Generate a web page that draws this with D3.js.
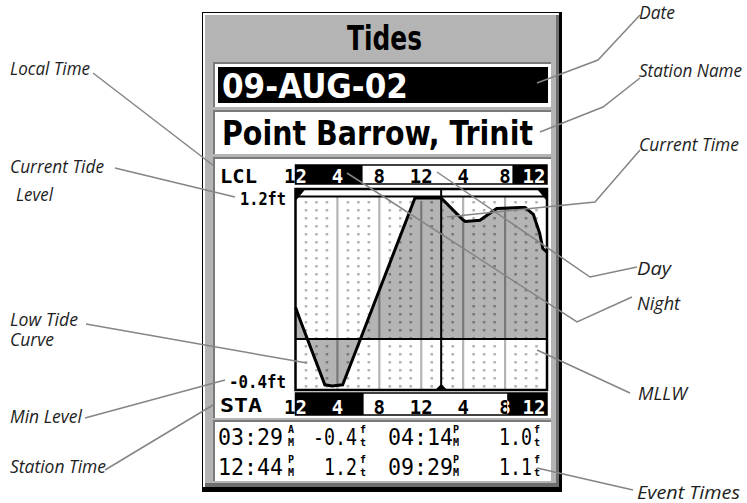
<!DOCTYPE html>
<html><head><meta charset="utf-8">
<script src="https://cdn.jsdelivr.net/npm/d3@7"></script>
<style>
html,body{margin:0;padding:0;background:#fff;}
svg{display:block;}
</style></head><body>
<svg id="c" width="747" height="503"></svg>
<script>
// ---------------- data ----------------
const screenTitle = "Tides";
const dateText = "09-AUG-02";
const stationName = "Point Barrow, Trinit";
const tideHours = [0, 0.45, 2.8, 3.5, 4.5, 6.2, 11.4, 12.7, 13.9, 15.9, 16.2, 17.6, 19.2, 21.5, 21.9, 22.7, 23.3, 23.6, 24];
const tideFeet  = [0.27, 0.16, -0.39, -0.4, -0.39, 0.0, 1.2, 1.2, 1.2, 1.02, 1.0, 1.01, 1.11, 1.12, 1.12, 1.06, 0.9, 0.77, 0.74];
const hourTicks = [0, 4, 8, 12, 16, 20, 24];
const hourTickLabels = ["12", "4", "8", "12", "4", "8", "12"];
const lclNight = [[0, 6.4], [20.7, 24]];
const staNight = [[0, 6.5], [20.2, 24]];
const currentHour = 13.9;
const levelMaxLabel = "1.2ft";
const levelMinLabel = "-0.4ft";
const levelDomain = [-0.4, 1.2];
const eventTimes = ["03:29", "12:44", "04:14", "09:29"];
const eventMeridiem = ["A", "P", "P", "P"];
const eventLevels = ["-0.4", "1.2", "1.0", "1.1"];
const calloutLabels = ["Local Time", "Current Tide|Level", "Low Tide|Curve", "Min Level", "Station Time",
  "Date", "Station Name", "Current Time", "Day", "Night", "MLLW", "Event Times"];

// ---------------- layout ----------------
const svg = d3.select("#c");
const GRAY = "#b4b4b4", DARK = "#7a7a7a", GRID_DARK = "#787878";
const plot = {x0: 295.5, x1: 547, y0: 189, y1: 390, top: 198, bottom: 386};
const x = d3.scaleLinear().domain([0, 24]).range([plot.x0, plot.x1]);
const y = d3.scaleLinear().domain(levelDomain).range([plot.bottom, plot.top]);
const tideAt = d3.scaleLinear().domain(tideHours).range(tideFeet);

function rect(g, x0, y0, x1, y1, fill) {
  return g.append("rect").attr("x", x0).attr("y", y0).attr("width", x1 - x0).attr("height", y1 - y0).attr("fill", fill);
}
function txt(g, str, xx, yy, o) {
  const t = g.append("text").attr("x", xx).attr("y", yy).text(str)
    .attr("font-family", o.family || "DejaVu Sans")
    .attr("font-size", o.size || 16)
    .attr("font-weight", o.weight || "normal")
    .attr("font-style", o.style || "normal")
    .attr("fill", o.fill || "#000")
    .attr("text-anchor", o.anchor || "start");
  if (o.len) t.attr("textLength", o.len).attr("lengthAdjust", "spacingAndGlyphs");
  return t;
}

// device frame with bevel
rect(svg, 202, 12, 562, 492, "#000");
rect(svg, 203, 13, 559, 487, "#fff");
rect(svg, 205, 15, 559, 487, "#6e6e6e");
rect(svg, 205, 15, 556, 483, GRAY);

function inset(x0, y0, x1, y1, inner) {
  rect(svg, x0, y0, x1, y1, DARK);
  rect(svg, x0 + 2, y0 + 2, x1, y1, "#fff");
  if (inner) rect(svg, x0 + 5, y0 + 5, x1 - 3, y1 - 4, inner);
}
// title
txt(svg, screenTitle, 347, 50, {size: 33, weight: "bold", family: "DejaVu Sans Condensed, DejaVu Sans", len: 75});
// date
inset(213, 62, 551, 107, "#000");
txt(svg, dateText, 222, 98, {size: 33, weight: "bold", fill: "#fff", family: "DejaVu Sans Condensed, DejaVu Sans", len: 186});
// station
inset(213, 110, 551, 154, null);
txt(svg, stationName, 222, 145, {size: 33, weight: "bold", family: "DejaVu Sans Condensed, DejaVu Sans", len: 311});
// chart section
inset(213, 157, 551, 418, null);
// events box
inset(213, 420, 551, 481, null);

// ---------------- plot ----------------
const defs = svg.append("defs");
const area = d3.area().x((d, i) => x(tideHours[i])).y0(y(0)).y1((d) => y(d));
const line = d3.line().x((d, i) => x(tideHours[i])).y((d) => y(d));

const pg = svg.append("g");
rect(pg, plot.x0, plot.y0, plot.x1, plot.y1, "#fff");
pg.append("path").attr("d", area(tideFeet)).attr("fill", GRAY);

// grid: light everywhere, darker segments where it crosses the tide fill
const hours = d3.range(1, 24);
const DOT_START = 201, DOT = 2.6, GAP = 5.4, PERIOD = DOT + GAP;
const isMajor = h => h % 4 === 0;
hours.forEach(h => {
  const major = isMajor(h);
  const xx = x(h);
  const lt = pg.append("line").attr("x1", xx).attr("x2", xx)
    .attr("y1", major ? plot.y0 + 8 : DOT_START).attr("y2", plot.y1)
    .attr("stroke", GRAY).attr("stroke-width", major ? 2.2 : 2.6);
  if (!major) lt.attr("stroke-dasharray", `${DOT} ${GAP}`);
  const v = tideAt(h);
  const top = Math.max(Math.min(y(0), y(v)), DOT_START);
  const bot = Math.max(y(0), y(v));
  const off = (top - DOT_START) % PERIOD;
  const dk = pg.append("line").attr("x1", xx).attr("x2", xx).attr("y1", top).attr("y2", bot)
    .attr("stroke", GRID_DARK).attr("stroke-width", major ? 2.2 : 2.6);
  if (!major) dk.attr("stroke-dasharray", `${DOT} ${GAP}`).attr("stroke-dashoffset", off);
});

// MLLW
pg.append("line").attr("x1", plot.x0).attr("x2", plot.x1).attr("y1", y(0)).attr("y2", y(0))
  .attr("stroke", "#000").attr("stroke-width", 2);
// tide curve
pg.append("path").attr("d", line(tideFeet)).attr("fill", "none").attr("stroke", "#000").attr("stroke-width", 3);

// top strip
rect(svg, plot.x0, plot.y0 + 2, plot.x1, plot.y0 + 7, "#fff");
svg.append("line").attr("x1", plot.x0).attr("x2", plot.x1).attr("y1", plot.y0 + 7.5).attr("y2", plot.y0 + 7.5)
  .attr("stroke", "#000").attr("stroke-width", 2);
// corners
svg.append("path").attr("d", `M${plot.x0},${plot.y0}h10l-10,12z`).attr("fill", "#000");
svg.append("path").attr("d", `M${plot.x1},${plot.y0}h-10l10,12z`).attr("fill", "#000");
// current time
svg.append("line").attr("x1", x(currentHour)).attr("x2", x(currentHour)).attr("y1", plot.y0).attr("y2", plot.y1)
  .attr("stroke", "#000").attr("stroke-width", 2);
svg.append("path").attr("d", `M${x(currentHour) - 6},${plot.y1}L${x(currentHour)},${plot.y1 - 6}L${x(currentHour) + 6},${plot.y1}z`).attr("fill", "#000");
// border
svg.append("rect").attr("x", plot.x0).attr("y", plot.y0).attr("width", plot.x1 - plot.x0).attr("height", plot.y1 - plot.y0)
  .attr("fill", "none").attr("stroke", "#000").attr("stroke-width", 2.5);

// level labels
txt(svg, "LCL", 220, 183, {size: 19, weight: "bold", family: "DejaVu Sans Mono", len: 37});
txt(svg, "STA", 220, 412, {size: 19, weight: "bold", family: "DejaVu Sans Mono", len: 42});
txt(svg, levelMaxLabel, 286, 205, {size: 17, weight: "bold", anchor: "end", family: "DejaVu Sans Mono", len: 46});
txt(svg, levelMinLabel, 286, 388, {size: 17, weight: "bold", anchor: "end", family: "DejaVu Sans Mono", len: 57});

// time rows
function timeRow(y0, y1, night, id) {
  const g = svg.append("g");
  rect(g, plot.x0, y0, plot.x1, y1, "#fff");
  g.selectAll("rect.n").data(night).join("rect").attr("class", "n")
    .attr("x", d => x(d[0])).attr("y", y0).attr("width", d => x(d[1]) - x(d[0])).attr("height", y1 - y0).attr("fill", "#000");
  const cp = defs.append("clipPath").attr("id", id);
  cp.selectAll("rect").data(night).join("rect")
    .attr("x", d => x(d[0])).attr("y", y0).attr("width", d => x(d[1]) - x(d[0])).attr("height", y1 - y0);
  const labelX = (d) => Math.min(Math.max(x(d), 0), plot.x1 - 13);
  const draw = (gg, fill) => gg.selectAll("text").data(hourTicks).join("text")
    .attr("x", labelX).attr("y", y1 - 1).attr("text-anchor", "middle")
    .attr("font-family", "DejaVu Sans Mono").attr("font-weight", "bold").attr("font-size", 19)
    .attr("fill", fill).text((d, i) => hourTickLabels[i]);
  draw(g.append("g"), "#000");
  draw(g.append("g").attr("clip-path", `url(#${id})`), "#fff");
  g.append("rect").attr("x", plot.x0).attr("y", y0).attr("width", plot.x1 - plot.x0).attr("height", y1 - y0)
    .attr("fill", "none").attr("stroke", "#000").attr("stroke-width", 1.5);
}
timeRow(165, 184, lclNight, "lclClip");
timeRow(393, 415, staNight, "staClip");

// ---------------- events ----------------
function stacked(top, bottom, xx, by) {
  const t = svg.append("text").attr("font-family", "DejaVu Sans Mono").attr("font-weight", "bold")
    .attr("font-size", 10).attr("text-anchor", "middle");
  t.append("tspan").attr("x", xx).attr("y", by - 12).text(top);
  t.append("tspan").attr("x", xx).attr("y", by + 1).text(bottom);
}
const evCols = [{t: 218, m: 291, v: 357, f: 363}, {t: 388, m: 456, v: 532, f: 537}];
eventTimes.forEach((t, i) => {
  const c = evCols[Math.floor(i / 2)];
  const by = i % 2 === 0 ? 445 : 475;
  txt(svg, t, c.t, by, {size: 23, family: "DejaVu Sans Mono", len: 65});
  stacked(eventMeridiem[i], "M", c.m, by);
  txt(svg, eventLevels[i], c.v, by, {size: 23, anchor: "end", family: "DejaVu Sans Mono", len: eventLevels[i].length * 11});
  stacked("f", "t", c.f, by);
});

// ---------------- callouts ----------------
const calloutPos = [
  {x: 10, y: 75, w: [80], pts: [[93, 73], [214, 166]]},
  {x: 10, y: 173, w: [94, 37], dx2: 6, lh: 28, pts: [[115, 168], [235, 197]]},
  {x: 10, y: 326, w: [68, 44], dx2: 0, lh: 20, pts: [[86, 324], [307, 363]]},
  {x: 10, y: 423, w: [72], pts: [[85, 418], [225, 380]]},
  {x: 10, y: 473, w: [96], pts: [[105, 470], [213, 405]]},
  {x: 639, y: 19, w: [36], pts: [[640, 15], [598, 60], [537, 83]]},
  {x: 639, y: 77, w: [103], pts: [[640, 78], [603, 107], [540, 132]]},
  {x: 639, y: 151, w: [100], pts: [[640, 150], [595, 202], [447, 217]]},
  {x: 637, y: 275, w: [34], pts: [[637, 267], [590, 277], [437, 172]]},
  {x: 637, y: 310, w: [43], pts: [[632, 297], [577, 322], [347, 173]]},
  {x: 638, y: 400, w: [49], pts: [[630, 393], [537, 350]]},
  {x: 637, y: 499, w: [103], pts: [[633, 490], [537, 468]]}
];
const cg = svg.append("g");
calloutLabels.forEach((lab, i) => {
  const p = calloutPos[i];
  cg.append("path").attr("d", d3.line()(p.pts)).attr("fill", "none").attr("stroke", "#858585").attr("stroke-width", 1.5);
  lab.split("|").forEach((s, j) => {
    txt(cg, s, p.x + (j ? p.dx2 : 0), p.y + j * (p.lh || 0), {size: 18, style: "italic", family: "Open Sans", fill: "#1e1e1e", len: p.w[j]});
  });
});
</script>
</body></html>
